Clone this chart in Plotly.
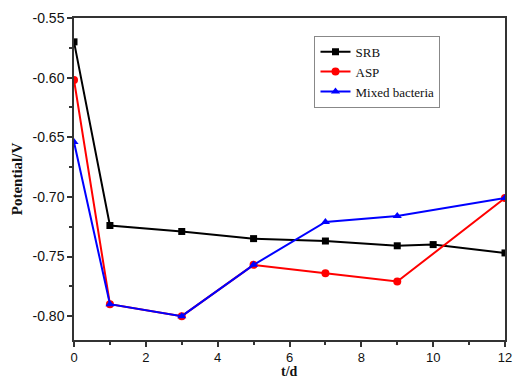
import plotly.graph_objects as go

t_srb = [0, 1, 3, 5, 7, 9, 10, 12]
srb = [-0.570, -0.724, -0.729, -0.735, -0.737, -0.741, -0.740, -0.747]
t_asp = [0, 1, 3, 5, 7, 9, 12]
asp = [-0.602, -0.790, -0.800, -0.757, -0.764, -0.771, -0.701]
t_mix = [0, 1, 3, 5, 7, 9, 12]
mix = [-0.654, -0.790, -0.800, -0.757, -0.721, -0.716, -0.701]
y_ticks = [-0.80, -0.75, -0.70, -0.65, -0.60, -0.55]
y_ticktext = ["-0.80", "-0.75", "-0.70", "-0.65", "-0.60", "-0.55"]

fig = go.Figure()
fig.add_trace(go.Scatter(x=t_srb, y=srb, name="SRB", mode="lines+markers",
                         line=dict(color="black", width=2), marker=dict(symbol="square", size=7, color="black")))
fig.add_trace(go.Scatter(x=t_asp, y=asp, name="ASP", mode="lines+markers",
                         line=dict(color="#ff0000", width=2), marker=dict(symbol="circle", size=8, color="#ff0000")))
fig.add_trace(go.Scatter(x=t_mix, y=mix, name="Mixed bacteria", mode="lines+markers",
                         line=dict(color="#0000ff", width=2), marker=dict(symbol="triangle-up", size=8, color="#0000ff")))

axis_common = dict(showline=True, linecolor="#333", linewidth=1.5, mirror=True, showgrid=False,
                   zeroline=False, ticks="outside", ticklen=5, tickcolor="#333", tickwidth=1.5,
                   automargin=False,
                   tickfont=dict(family="Liberation Sans, Arial", size=14, color="#111"))
fig.update_xaxes(range=[0, 12], dtick=2, tick0=0,
                 minor=dict(dtick=1, ticks="outside", ticklen=3, tickcolor="#333"),
                 **axis_common)
fig.update_xaxes(tickfont=dict(family="Liberation Sans, Arial", size=13, color="#111"))
fig.update_yaxes(range=[-0.82, -0.55], tickvals=y_ticks, ticktext=y_ticktext,
                 minor=dict(dtick=0.025, tick0=-0.55, ticks="outside", ticklen=3, tickcolor="#333"),
                 title=dict(text="<b>Potential/V</b>", font=dict(family="Liberation Serif, Times New Roman", size=15, color="#111"), standoff=6),
                 **axis_common)
fig.add_annotation(text="<b>t/d</b>", xref="paper", yref="paper", x=0.5, y=-0.0963,
                   xanchor="center", yanchor="middle", showarrow=False,
                   font=dict(family="Liberation Serif, Times New Roman", size=14, color="#111"))
fig.update_layout(width=513, height=380, margin=dict(l=74, r=8, t=18, b=40),
                  paper_bgcolor="white", plot_bgcolor="white", showlegend=True,
                  legend=dict(x=0.558, y=0.945, xanchor="left", yanchor="top",
                              bordercolor="#888", borderwidth=1, bgcolor="white",
                              font=dict(family="Liberation Serif, Times New Roman", size=13, color="#111"),
                              tracegroupgap=0, itemwidth=30))
fig.write_html("out.html")
